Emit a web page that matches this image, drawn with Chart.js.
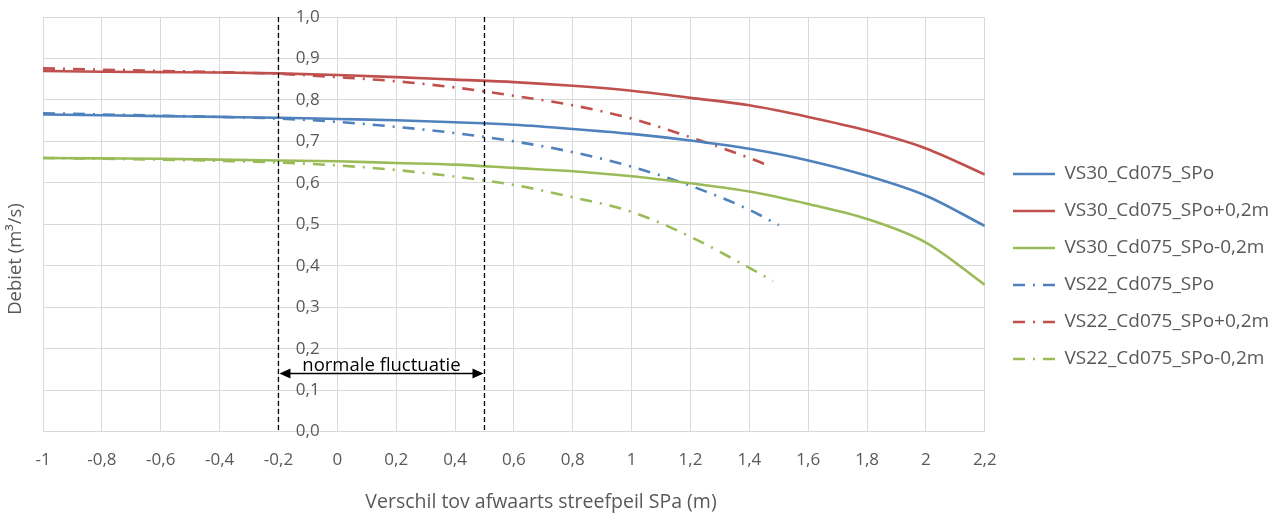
<!DOCTYPE html>
<html>
<head>
<meta charset="utf-8">
<script src="https://cdn.jsdelivr.net/npm/chart.js"></script>
<style>
  html, body { margin: 0; padding: 0; background: #fff; }
  #wrap { width: 1280px; height: 516px; }
</style>
</head>
<body>
<div id="wrap"><canvas id="myChart" width="1280" height="516"></canvas></div>
<script>
// x values
const xSolid = [-1, -0.8, -0.6, -0.4, -0.2, 0, 0.2, 0.4, 0.6, 0.8, 1.0, 1.2, 1.4, 1.6, 1.8, 2.0, 2.2];
const xDashBlue = [-1, -0.8, -0.6, -0.4, -0.2, 0, 0.2, 0.4, 0.6, 0.8, 1.0, 1.2, 1.4, 1.5];
const xDashRed = [-1, -0.8, -0.6, -0.4, -0.2, 0, 0.2, 0.4, 0.6, 0.8, 1.0, 1.2, 1.4, 1.47];
const xDashGreen = [-1, -0.8, -0.6, -0.4, -0.2, 0, 0.2, 0.4, 0.6, 0.8, 1.0, 1.2, 1.4, 1.48];

// debiet (m3/s)
const vs30Spo = [0.765, 0.763, 0.761, 0.759, 0.757, 0.754, 0.751, 0.746, 0.740, 0.730, 0.718, 0.702, 0.682, 0.654, 0.617, 0.569, 0.496];
const vs30Plus = [0.870, 0.868, 0.867, 0.866, 0.864, 0.860, 0.855, 0.849, 0.843, 0.834, 0.822, 0.805, 0.787, 0.759, 0.726, 0.683, 0.620];
const vs30Min = [0.660, 0.659, 0.658, 0.656, 0.654, 0.652, 0.648, 0.644, 0.636, 0.628, 0.616, 0.599, 0.579, 0.549, 0.513, 0.456, 0.354];
const vs22Spo = [0.768, 0.765, 0.762, 0.759, 0.755, 0.747, 0.735, 0.720, 0.700, 0.674, 0.639, 0.593, 0.535, 0.498];
const vs22Plus = [0.876, 0.873, 0.870, 0.867, 0.863, 0.855, 0.845, 0.830, 0.810, 0.787, 0.755, 0.710, 0.660, 0.640];
const vs22Min = [0.660, 0.658, 0.656, 0.653, 0.649, 0.642, 0.631, 0.615, 0.595, 0.565, 0.530, 0.470, 0.395, 0.363];

const seriesNames = ["VS30_Cd075_SPo", "VS30_Cd075_SPo+0,2m", "VS30_Cd075_SPo-0,2m",
                     "VS22_Cd075_SPo", "VS22_Cd075_SPo+0,2m", "VS22_Cd075_SPo-0,2m"];

// band "normale fluctuatie"
const bandFrom = -0.2;
const bandTo = 0.5;
const bandArrowY = 0.14;
const bandLabel = "normale fluctuatie";

const xTitle = "Verschil tov afwaarts streefpeil SPa (m)";
const yTitle = "Debiet (m³/s)";

const BLUE = "#4f81bd", RED = "#c0504d", GREEN = "#9bbb59";
const DASH = [12, 8, 2, 8];
const FONT = "'Open Sans', sans-serif";
const GREY = "#595959";

// legend sits a bit further from the plot than chart.js puts it
const LEGEND_LEFT = 1013;
const LEGEND_TOP_ROW = 174;

function pts(xs, ys) {
  return xs.map((x, i) => ({ x: x, y: ys[i] }));
}

function line(label, xs, ys, color, dashed) {
  return {
    label: label,
    data: pts(xs, ys),
    borderColor: color,
    backgroundColor: color,
    borderWidth: 2.6,
    borderDash: dashed ? DASH : [],
    pointRadius: 0,
    fill: false,
    tension: 0.4,
    cubicInterpolationMode: "monotone",
  };
}

const comma = (v) => {
  const r = Math.round(v * 10) / 10;
  return Number.isInteger(r) ? String(r) : r.toFixed(1).replace(".", ",");
};

const legendShift = {
  id: "legendShift",
  beforeDraw(chart) {
    const lg = chart.legend;
    if (!lg || !lg.legendHitBoxes || !lg.legendHitBoxes.length) return;
    const first = lg.legendHitBoxes[0];
    const dx = LEGEND_LEFT - first.left;
    const dy = LEGEND_TOP_ROW - (first.top + first.height / 2);
    if (!isFinite(dx) || !isFinite(dy)) return;
    lg.left += dx; lg.right += dx;
    lg.top += dy; lg.bottom += dy;
    lg.legendHitBoxes.forEach((b) => { b.left += dx; b.top += dy; });
  },
};

const bandPlugin = {
  id: "band",
  afterDatasetsDraw(chart) {
    const { ctx, chartArea, scales } = chart;
    const x1 = scales.x.getPixelForValue(bandFrom);
    const x2 = scales.x.getPixelForValue(bandTo);
    const ya = scales.y.getPixelForValue(bandArrowY);
    ctx.save();
    ctx.strokeStyle = "#000";
    ctx.lineWidth = 1.3;
    ctx.setLineDash([5, 3]);
    [x1, x2].forEach((x) => {
      ctx.beginPath();
      ctx.moveTo(x, chartArea.top);
      ctx.lineTo(x, chartArea.bottom);
      ctx.stroke();
    });
    ctx.setLineDash([]);
    ctx.lineWidth = 1.5;
    ctx.beginPath();
    ctx.moveTo(x1 + 8, ya);
    ctx.lineTo(x2 - 8, ya);
    ctx.stroke();
    ctx.fillStyle = "#000";
    ctx.beginPath();
    ctx.moveTo(x1 + 1, ya);
    ctx.lineTo(x1 + 12, ya - 5);
    ctx.lineTo(x1 + 12, ya + 5);
    ctx.closePath();
    ctx.fill();
    ctx.beginPath();
    ctx.moveTo(x2 - 1, ya);
    ctx.lineTo(x2 - 12, ya - 5);
    ctx.lineTo(x2 - 12, ya + 5);
    ctx.closePath();
    ctx.fill();
    ctx.font = "18.5px " + FONT;
    ctx.textAlign = "center";
    ctx.textBaseline = "bottom";
    ctx.fillText(bandLabel, (x1 + x2) / 2, ya + 1);

    // axis titles
    ctx.fillStyle = GREY;
    ctx.font = "19.5px " + FONT;
    ctx.textAlign = "center";
    ctx.textBaseline = "middle";
    ctx.fillText(xTitle, 541, 502);
    ctx.translate(16, 259);
    ctx.rotate(-Math.PI / 2);
    ctx.font = "18.5px " + FONT;
    ctx.fillText(yTitle, 0, 0);
    ctx.restore();
  },
};

window.onload = function () {
  const ctx = document.getElementById("myChart").getContext("2d");
  new Chart(ctx, {
    type: "line",
    data: {
      datasets: [
        line(seriesNames[0], xSolid, vs30Spo, BLUE, false),
        line(seriesNames[1], xSolid, vs30Plus, RED, false),
        line(seriesNames[2], xSolid, vs30Min, GREEN, false),
        line(seriesNames[3], xDashBlue, vs22Spo, BLUE, true),
        line(seriesNames[4], xDashRed, vs22Plus, RED, true),
        line(seriesNames[5], xDashGreen, vs22Min, GREEN, true),
      ],
    },
    plugins: [legendShift, bandPlugin],
    options: {
      responsive: false,
      animation: false,
      layout: { padding: { left: 43, top: 17, right: 11, bottom: 28 } },
      plugins: {
        legend: {
          position: "right",
          labels: {
            usePointStyle: true,
            pointStyle: "line",
            pointStyleWidth: 42,
            boxHeight: 18,
            padding: 18,
            color: GREY,
            font: { family: FONT, size: 19 },
            generateLabels: (chart) =>
              Chart.defaults.plugins.legend.labels.generateLabels(chart).map((item) => {
                const ds = chart.data.datasets[item.datasetIndex];
                item.lineDash = ds.borderDash;
                item.lineWidth = ds.borderWidth;
                item.strokeStyle = ds.borderColor;
                return item;
              }),
          },
        },
        tooltip: { enabled: false },
      },
      scales: {
        x: {
          type: "linear",
          min: -1,
          max: 2.2,
          grid: { color: "#d9d9d9", lineWidth: 1, drawTicks: false },
          border: { color: "#d9d9d9" },
          ticks: {
            stepSize: 0.2,
            padding: 18,
            color: GREY,
            font: { family: FONT, size: 17 },
            callback: (v) => comma(v),
          },
        },
        y: {
          position: { x: 0 },
          min: 0,
          max: 1,
          grid: { color: "#d9d9d9", lineWidth: 1, drawTicks: false },
          border: { color: "#d9d9d9" },
          ticks: {
            stepSize: 0.1,
            color: GREY,
            font: { family: FONT, size: 17 },
            // trailing spaces keep the labels clear of the axis at x = 0
            callback: (v) => (Math.round(v * 10) / 10).toFixed(1).replace(".", ",") + "    ",
          },
        },
      },
    },
  });
};
</script>
</body>
</html>
